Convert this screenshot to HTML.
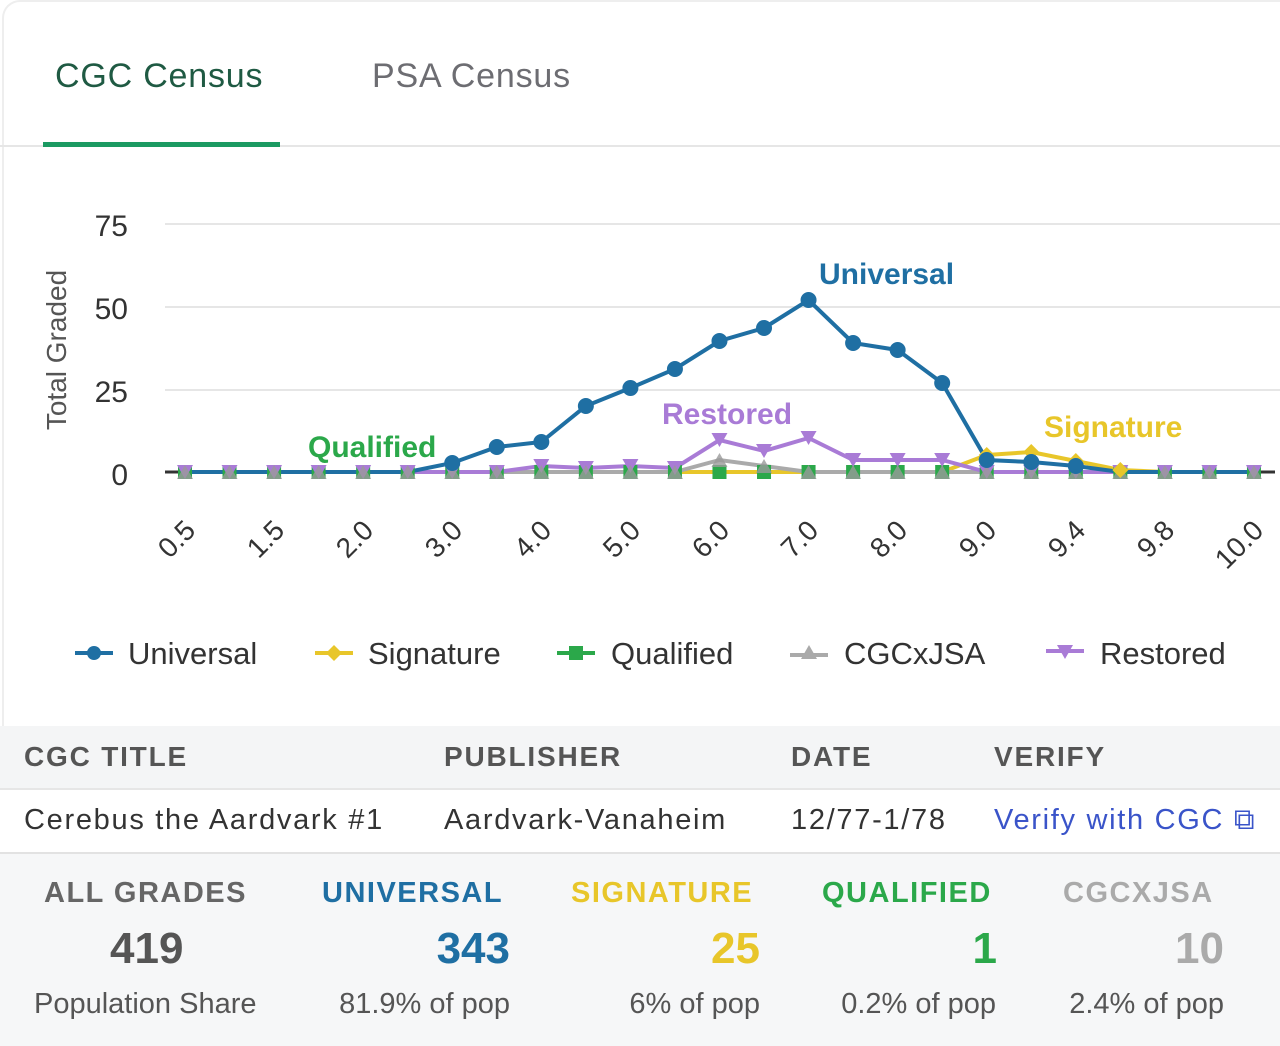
<!DOCTYPE html>
<html><head><meta charset="utf-8"><style>
body{margin:0;width:1280px;height:1044px;background:#fff;font-family:"Liberation Sans",sans-serif;position:relative;overflow:hidden}
.abs{position:absolute;white-space:nowrap}
.r2{font-size:29px;letter-spacing:1.7px}
</style></head><body>
<div class="abs" style="left:2px;top:0;width:1300px;height:740px;border-left:2px solid #eee;border-top:2px solid #eee;border-radius:18px 0 0 0"></div>
<div class="abs" style="left:55px;top:57px;font-size:34px;letter-spacing:0.8px;color:#1f5a43">CGC Census</div>
<div class="abs" style="left:372px;top:57px;font-size:34px;letter-spacing:0.8px;color:#6d6d72">PSA Census</div>
<div class="abs" style="left:0;top:145px;width:1280px;height:2px;background:#e6e6e6"></div>
<div class="abs" style="left:43px;top:142px;width:237px;height:5px;background:#1b9a62"></div>

<svg class="abs" style="left:0;top:0" width="1280" height="720" id="ch">
<g stroke="#e6e6e6" stroke-width="2">
<line x1="165" x2="1280" y1="224" y2="224"/><line x1="165" x2="1280" y1="307" y2="307"/><line x1="165" x2="1280" y1="390" y2="390"/>
</g>
<g font-size="30" fill="#333" text-anchor="end" font-family="Liberation Sans">
<text x="128" y="236">75</text><text x="128" y="319">50</text><text x="128" y="402">25</text><text x="128" y="485">0</text>
</g>
<text transform="translate(66,350) rotate(-90)" font-size="28" fill="#555" text-anchor="middle">Total Graded</text>
<line x1="165" x2="1275" y1="472" y2="472" stroke="#333" stroke-width="3"/>
<g id="series"></g>
<g font-size="28" fill="#333" font-family="Liberation Sans" text-anchor="end">
<text transform="translate(197,532) rotate(-45)">0.5</text>
<text transform="translate(286,532) rotate(-45)">1.5</text>
<text transform="translate(375,532) rotate(-45)">2.0</text>
<text transform="translate(464,532) rotate(-45)">3.0</text>
<text transform="translate(553,532) rotate(-45)">4.0</text>
<text transform="translate(642,532) rotate(-45)">5.0</text>
<text transform="translate(731,532) rotate(-45)">6.0</text>
<text transform="translate(820,532) rotate(-45)">7.0</text>
<text transform="translate(909,532) rotate(-45)">8.0</text>
<text transform="translate(998,532) rotate(-45)">9.0</text>
<text transform="translate(1087,532) rotate(-45)">9.4</text>
<text transform="translate(1176,532) rotate(-45)">9.8</text>
<text transform="translate(1265,532) rotate(-45)">10.0</text>
</g>
<g font-size="30" font-weight="bold" font-family="Liberation Sans">
<text x="819" y="284" fill="#1f6fa3">Universal</text>
<text x="662" y="424" fill="#a97bd6">Restored</text>
<text x="308" y="457" fill="#2ba84a">Qualified</text>
<text x="1044" y="437" fill="#e8c62a">Signature</text>
</g>
<g font-size="31" fill="#333" font-family="Liberation Sans">
<line x1="75" x2="113" y1="653" y2="653" stroke="#1f6fa3" stroke-width="4"/><circle cx="94" cy="653" r="7" fill="#1f6fa3"/>
<text x="128" y="664">Universal</text>
<line x1="315" x2="353" y1="653" y2="653" stroke="#e8c62a" stroke-width="4"/><path d="M334 645 L342 653 L334 661 L326 653Z" fill="#e8c62a"/>
<text x="368" y="664">Signature</text>
<line x1="557" x2="595" y1="653" y2="653" stroke="#2ba84a" stroke-width="4"/><rect x="569" y="646" width="14" height="14" fill="#2ba84a"/>
<text x="611" y="664">Qualified</text>
<line x1="790" x2="828" y1="655" y2="655" stroke="#aaa" stroke-width="4"/><path d="M809 645 L817 659 L801 659Z" fill="#aaa"/>
<text x="844" y="664">CGCxJSA</text>
<line x1="1046" x2="1084" y1="651" y2="651" stroke="#a97bd6" stroke-width="4"/><path d="M1057 645 L1073 645 L1065 659Z" fill="#a97bd6"/>
<text x="1100" y="664">Restored</text>
</g>
</svg>

<div class="abs" style="left:0;top:726px;width:1280px;height:62px;background:#f4f5f6;border-bottom:2px solid #e6e6e6"></div>
<div class="abs" style="left:24px;top:741px;font-size:28px;font-weight:bold;color:#555;letter-spacing:1.8px">CGC TITLE</div>
<div class="abs" style="left:444px;top:741px;font-size:28px;font-weight:bold;color:#555;letter-spacing:1.8px">PUBLISHER</div>
<div class="abs" style="left:791px;top:741px;font-size:28px;font-weight:bold;color:#555;letter-spacing:1.8px">DATE</div>
<div class="abs" style="left:994px;top:741px;font-size:28px;font-weight:bold;color:#555;letter-spacing:1.8px">VERIFY</div>
<div class="abs r2" style="left:24px;top:804px;color:#333">Cerebus the Aardvark #1</div>
<div class="abs r2" style="left:444px;top:804px;color:#333">Aardvark-Vanaheim</div>
<div class="abs r2" style="left:791px;top:804px;color:#333">12/77-1/78</div>
<div class="abs r2" style="left:994px;top:804px;color:#3a54c9">Verify with CGC ⧉</div>
<div class="abs" style="left:0;top:852px;width:1280px;height:192px;background:#f6f7f8;border-top:2px solid #e2e2e2"></div>
<div class="abs" style="left:44px;top:877px;font-size:29px;font-weight:bold;color:#666;letter-spacing:1.5px">ALL GRADES</div>
<div class="abs" style="left:322px;top:877px;font-size:29px;font-weight:bold;color:#1f6fa3;letter-spacing:1.5px">UNIVERSAL</div>
<div class="abs" style="left:571px;top:877px;font-size:29px;font-weight:bold;color:#e8c62a;letter-spacing:1.5px">SIGNATURE</div>
<div class="abs" style="left:822px;top:877px;font-size:29px;font-weight:bold;color:#2ba84a;letter-spacing:1.5px">QUALIFIED</div>
<div class="abs" style="left:1063px;top:877px;font-size:29px;font-weight:bold;color:#aaa;letter-spacing:1.5px">CGCXJSA</div>
<div class="abs" style="left:110px;top:924px;font-size:44px;font-weight:bold;color:#555">419</div>
<div class="abs" style="right:770px;top:924px;font-size:44px;font-weight:bold;color:#1f6fa3">343</div>
<div class="abs" style="right:520px;top:924px;font-size:44px;font-weight:bold;color:#e8c62a">25</div>
<div class="abs" style="right:283px;top:924px;font-size:44px;font-weight:bold;color:#2ba84a">1</div>
<div class="abs" style="right:56px;top:924px;font-size:44px;font-weight:bold;color:#aaa">10</div>
<div class="abs" style="left:34px;top:988px;font-size:29px;color:#555">Population Share</div>
<div class="abs" style="right:770px;top:988px;font-size:29px;color:#555">81.9% of pop</div>
<div class="abs" style="right:520px;top:988px;font-size:29px;color:#555">6% of pop</div>
<div class="abs" style="right:284px;top:988px;font-size:29px;color:#555">0.2% of pop</div>
<div class="abs" style="right:56px;top:988px;font-size:29px;color:#555">2.4% of pop</div>

<script>
var X=[];for(var i=0;i<25;i++)X.push(185+44.54*i);
function Y(a){var r=[];for(var i=0;i<25;i++)r.push(a[i]!==undefined?a[i]:472);return r}
var uni=Y({6:463,7:447,8:442,9:406,10:388,11:369,12:341,13:328,14:300,15:343,16:350,17:383,18:460,19:462,20:466});
var res=Y({8:466,9:468,10:466,11:468,12:440,13:451,14:438,15:460,16:460,17:460});
var sig=Y({18:455,19:452,20:461,21:470});
var gry=Y({12:460,13:466});
var g=document.getElementById('series'),s='';
function pl(y,c){return '<polyline fill="none" stroke="'+c+'" stroke-width="4" points="'+X.map(function(x,i){return x+','+y[i]}).join(' ')+'"/>';}
s+=pl(sig,'#e8c62a')+pl(gry,'#aaa')+pl(res,'#a97bd6')+pl(uni,'#1f6fa3');
for(i=0;i<25;i++){
 s+='<rect x="'+(X[i]-7)+'" y="465" width="14" height="14" fill="#2ba84a"/>';
 s+='<path d="M'+(X[i]-8)+' '+(res[i]-7)+' L'+(X[i]+8)+' '+(res[i]-7)+' L'+X[i]+' '+(res[i]+7)+'Z" fill="#a97bd6"/>';
 s+='<path d="M'+(X[i]-8)+' '+(gry[i]+7)+' L'+(X[i]+8)+' '+(gry[i]+7)+' L'+X[i]+' '+(gry[i]-7)+'Z" fill="#9a9a9a" opacity="0.8"/>';
 if(sig[i]<472)s+='<path d="M'+X[i]+' '+(sig[i]-8)+' L'+(X[i]+8)+' '+sig[i]+' L'+X[i]+' '+(sig[i]+8)+' L'+(X[i]-8)+' '+sig[i]+'Z" fill="#e8c62a"/>';
 if(uni[i]<472)s+='<circle cx="'+X[i]+'" cy="'+uni[i]+'" r="8" fill="#1f6fa3"/>';
}
g.innerHTML=s;
</script>
</body></html>
